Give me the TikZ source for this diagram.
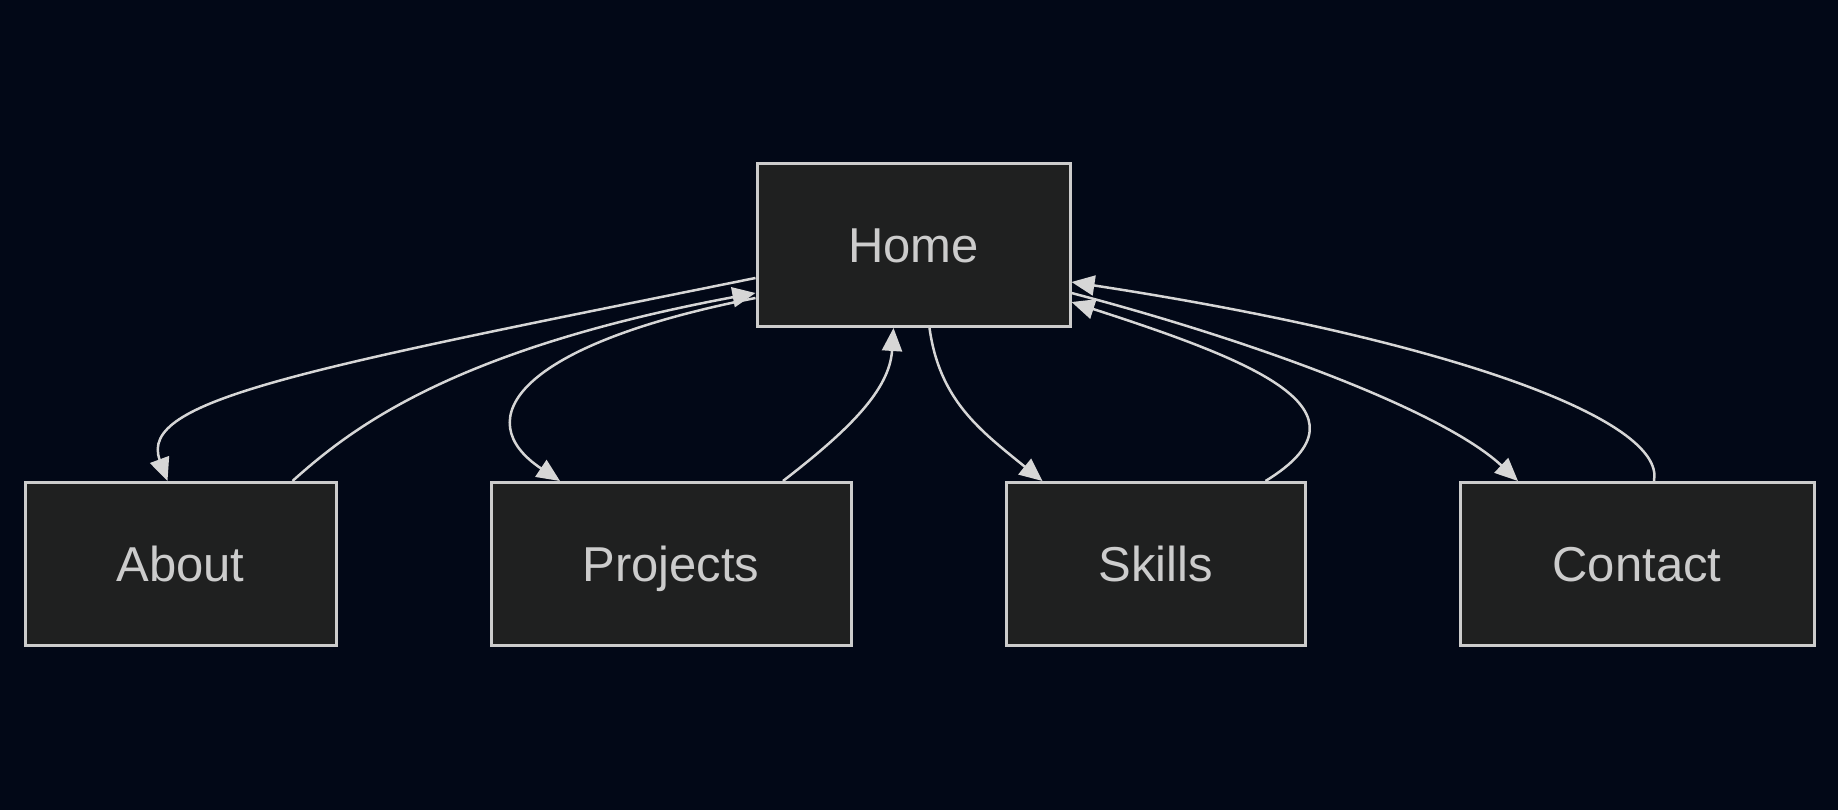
\documentclass[tikz,border=0pt]{standalone}
\usepackage{fontspec}
\setmainfont{Liberation Sans}
\usepackage{tikz}
\usetikzlibrary{positioning,arrows.meta}

\definecolor{pagebg}{RGB}{2,8,23}
\definecolor{boxfill}{RGB}{31,32,32}
\definecolor{boxline}{RGB}{204,204,204}
\definecolor{linkcol}{RGB}{214,214,214}

\begin{document}
\begin{tikzpicture}[x=1pt,y=-1pt,
        page/.style={fill=pagebg},
        box/.style={draw=boxline,fill=boxfill,line width=3pt,minimum height=163pt,
            inner sep=0pt,text height=44pt,text depth=10pt,text=boxline,
            font=\fontsize{49}{59}\selectfont},
        link/.style={draw=linkcol,line width=2.5pt,-{Triangle[length=23pt,width=20pt]}}]
        \fill[page] (0,0) rectangle (1838,810);
        \useasboundingbox (0,0) rectangle (1838,810);
        \node[box,minimum width=313pt] (home) at (913.5,245) {Home};
        \node[box,minimum width=311pt] (about) at (180.5,564) {About};
        \node[box,minimum width=360pt,right=152pt of about] (projects) {Projects};
        \node[box,minimum width=299pt,right=152pt of projects] (skills) {Skills};
        \node[box,minimum width=354pt,right=152pt of skills] (contact) {Contact};
        \draw[link] ([yshift=-33pt]home.west) .. controls +(-456,92) and +(-30,-81) .. ([xshift=-13pt]about.north);
        \draw[link] ([xshift=112pt]about.north) .. controls +(57,-51) and +(-306,57) .. ([yshift=-48pt]home.west);
        \draw[link] ([yshift=-53pt]home.west) .. controls +(-240,47) and +(-92,-61) .. ([xshift=-111pt]projects.north);
        \draw[link] ([xshift=112pt]projects.north) .. controls +(66,-51) and +(-4,62) .. ([xshift=-20pt]home.south);
        \draw[link] ([xshift=16pt]home.south) .. controls +(10,72) and +(-63,-51) .. ([xshift=-113pt]skills.north);
        \draw[link] ([xshift=110pt]skills.north) .. controls +(116,-71) and +(179,58) .. ([yshift=-57pt]home.east);
        \draw[link] ([yshift=-48pt]home.east) .. controls +(179,47) and +(-76,-71) .. ([xshift=-119pt]contact.north);
        \draw[link] ([xshift=17pt]contact.north) .. controls +(12,-61) and +(379,58) .. ([yshift=-37pt]home.east);
\end{tikzpicture}
\end{document}
